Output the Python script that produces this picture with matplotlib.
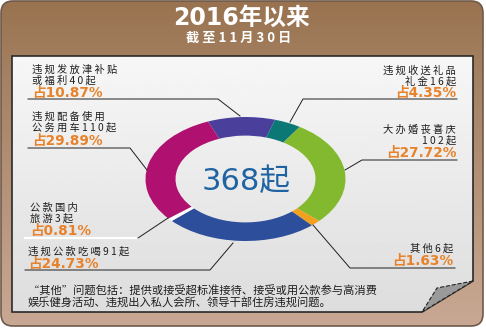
import numpy as np
import matplotlib
matplotlib.use("Agg")
import matplotlib.pyplot as plt
from matplotlib.patches import FancyBboxPatch, Polygon

plt.rcParams['font.family'] = ['Noto Sans CJK SC', 'DejaVu Sans']

# data, clockwise from the top
categories = ['违规发放津补贴或福利', '违规收送礼品礼金', '大办婚丧喜庆', '其他',
              '违规公款吃喝', '公款国内旅游', '违规配备使用公务用车']
counts = [40, 16, 102, 6, 91, 3, 110]
shares = ['10.87%', '4.35%', '27.72%', '1.63%', '24.73%', '0.81%', '29.89%']
colors = ['#4a3f9b', '#0b7876', '#82b92e', '#f2a11f', '#2c4e9b', '#ffffff', '#b0106f']
total = sum(counts)

title = '2016年以来'
subtitle = '截至11月30日'
note = ['“其他”问题包括：提供或接受超标准接待、接受或用公款参与高消费',
        '娱乐健身活动、违规出入私人会所、领导干部住房违规问题。']

W, H = 486, 329
fig = plt.figure(figsize=(W / 100, H / 100), dpi=100)
fig.patch.set_facecolor('white')

# background in pixel coordinates
bg = fig.add_axes([0, 0, 1, 1])
bg.set_xlim(0, W)
bg.set_ylim(H, 0)
bg.axis('off')

frame = FancyBboxPatch((1, 1), W - 4, H - 4, boxstyle='round,pad=0,rounding_size=12',
                       facecolor='none', edgecolor='#6e5a4a', lw=1.2, zorder=3)
bg.add_patch(frame)
t = np.linspace(0, 1, 200)[:, None]
c_top = np.array([0.60, 0.45, 0.31])
c_mid = np.array([0.64, 0.50, 0.38])
c_bot = np.array([0.79, 0.66, 0.58])
grad = np.where(t < 0.2, c_top + (c_mid - c_top) * (t / 0.2),
                c_mid + (c_bot - c_mid) * ((t - 0.2) / 0.8))
img = bg.imshow(np.repeat(grad[:, None, :], 2, axis=1).reshape(200, 2, 3),
                extent=(0, W, H, 0), aspect='auto', zorder=1)
img.set_clip_path(frame)

panel_pts = [(12, 56), (473, 56), (473, 281), (422, 312), (12, 312)]
panel = Polygon(panel_pts, closed=True, facecolor='none', edgecolor='#2a2a2a', lw=1.2, zorder=4)
bg.add_patch(panel)
pg = np.linspace(0.99, 0.86, 200)[:, None]
pimg = bg.imshow(np.repeat(pg, 2, axis=1), cmap='gray', vmin=0, vmax=1,
                 extent=(0, W, H, 0), aspect='auto', zorder=2)
pimg.set_clip_path(panel)
bg.add_patch(Polygon([(473, 281), (437, 288), (422, 312)], closed=True,
                     facecolor='#9a9a9a', edgecolor='#222222', lw=0.8, ls='--', zorder=5))

# donut
ax = fig.add_axes([145.5 / W, (H - 241) / H, 200 / W, 124 / H])
ax.pie(counts, colors=colors, startangle=112, counterclock=False,
       wedgeprops=dict(width=0.3, edgecolor='none'))
ax.set_aspect('auto')
ax.set_xlim(-1, 1)
ax.set_ylim(-1, 1)
ax.axis('off')

# overlay text and leader lines
fg = fig.add_axes([0, 0, 1, 1], facecolor='none')
fg.set_xlim(0, W)
fg.set_ylim(H, 0)
fg.axis('off')


def sp(s):
    # the poster sets its labels with loose letter spacing
    return ' '.join(s)


wide = ['DejaVu Sans', 'Noto Sans CJK SC']
fg.text(241, 18, title, color='white', fontsize=17, fontweight='bold',
        family=wide, ha='center', va='center')
fg.text(239, 38, sp(subtitle), color='white', fontsize=9.5, fontweight='bold',
        ha='center', va='center')
fg.text(246, 181, f'{total}起', color='#1f63a3', fontsize=22, family=wide,
        ha='center', va='center')

black = '#1e1e1e'
orange = '#e8822a'
lab = dict(fontsize=7.4, color=black, va='baseline')
pct = dict(fontsize=9.8, color=orange, fontweight='bold', family=wide, va='baseline')

# left side
fg.text(32, 73, sp('违规发放津补贴'), ha='left', **lab)
fg.text(32, 84, sp(f'或福利{counts[0]}起'), ha='left', **lab)
fg.text(32, 97, '占' + shares[0], ha='left', **pct)
fg.plot([28, 218, 240], [99, 99, 116], color=black, lw=0.7)

fg.text(32, 120, sp('违规配备使用'), ha='left', **lab)
fg.text(32, 131, sp(f'公务用车{counts[6]}起'), ha='left', **lab)
fg.text(32, 145, '占' + shares[6], ha='left', **pct)
fg.plot([28, 130, 147], [148, 148, 170], color=black, lw=0.7)

fg.text(30, 211, sp('公款国内'), ha='left', **lab)
fg.text(30, 222, sp(f'旅游{counts[5]}起'), ha='left', **lab)
fg.text(30, 235, '占' + shares[5], ha='left', **pct)
fg.plot([25, 138], [238, 238], color='white', lw=1.5)
fg.plot([138, 168], [238, 218], color=black, lw=0.7)

fg.text(28, 255, sp(f'违规公款吃喝{counts[4]}起'), ha='left', **lab)
fg.text(28, 268, '占' + shares[4], ha='left', **pct)
fg.plot([25, 210, 233], [270, 270, 243], color=black, lw=0.7)

# right side
fg.text(456, 74, sp('违规收送礼品'), ha='right', **lab)
fg.text(456, 85, sp(f'礼金{counts[1]}起'), ha='right', **lab)
fg.text(456, 97, '占' + shares[1], ha='right', **pct)
fg.plot([457, 303, 290], [99, 99, 122], color=black, lw=0.7)

fg.text(456, 133, sp('大办婚丧喜庆'), ha='right', **lab)
fg.text(456, 144, sp(f'{counts[2]}起'), ha='right', **lab)
fg.text(456, 157, '占' + shares[2], ha='right', **pct)
fg.plot([457, 362, 345], [160, 160, 170], color=black, lw=0.7)

fg.text(453, 252, sp(f'其他{counts[3]}起'), ha='right', **lab)
fg.text(453, 265, '占' + shares[3], ha='right', **pct)
fg.plot([455, 350, 313], [268, 268, 225], color=black, lw=0.7)

fg.text(28, 291, note[0], ha='left', va='center', fontsize=8.1, color=black)
fg.text(28, 303.5, note[1], ha='left', va='center', fontsize=8.1, color=black)

fig.savefig('out.png', dpi=100)
